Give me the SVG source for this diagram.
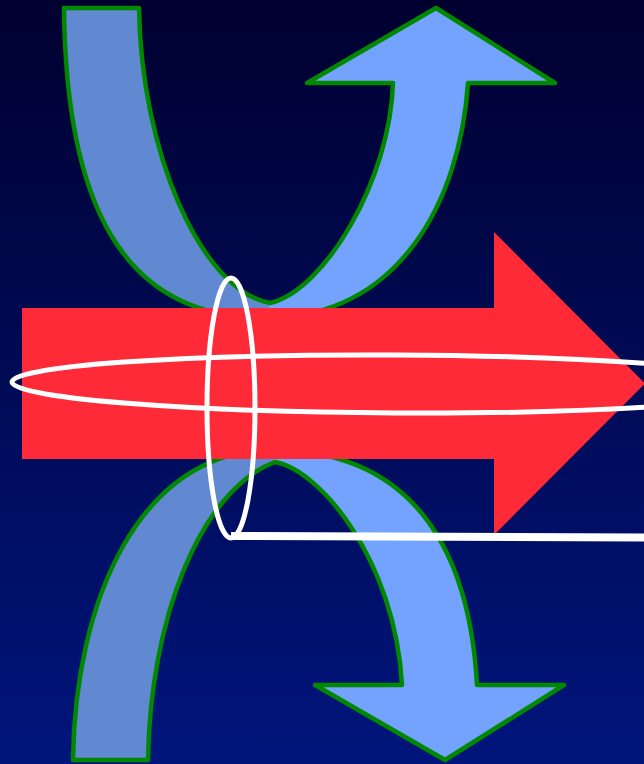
<svg xmlns="http://www.w3.org/2000/svg" width="644" height="764" viewBox="0 0 644 764">
  <defs>
    <linearGradient id="bg" x1="0" y1="0" x2="0" y2="1">
      <stop offset="0" stop-color="#000030"/>
      <stop offset="1" stop-color="#00157C"/>
    </linearGradient>
  </defs>
  <style>
    .light { fill: #73A3FF; stroke: none; }
    .dark { fill: #6189D2; stroke: none; }
    .outline { fill: none; stroke: #008800; stroke-width: 4.5; stroke-linejoin: round; }
    .red { fill: #FF2A38; stroke: none; }
    .white { fill: none; stroke: #FFFFFF; stroke-width: 5; }
  </style>
  <rect x="0" y="0" width="644" height="764" fill="url(#bg)"/>

  <g id="top-arrow">
    <path class="light" d="M139,8 L64,8 C66,200 120,318 265,318 C400,318 460,200 468,83 L555,83 L436,8 L307,83 L393,83 C390,180 325,290 270,303 C200,290 141,150 139,8 Z"/>
    <path class="dark" d="M64,8 L139,8 C141,150 200,290 270,303 L265,318 C120,318 66,200 64,8 Z"/>
    <path class="outline" d="M139,8 L64,8 C66,200 120,318 265,318 C400,318 460,200 468,83 L555,83 L436,8 L307,83 L393,83 C390,180 325,290 270,303 C200,290 141,150 139,8 Z"/>
  </g>

  <g id="bottom-arrow">
    <path class="light" d="M148,760 L73,760 C75,600 140,450 272,450 C420,450 470,560 477,685 L564,685 L445,760 L315,685 L402,685 C395,560 320,470 275,462 C200,490 150,620 148,760 Z"/>
    <path class="dark" d="M73,760 L148,760 C150,620 200,490 275,462 L272,450 C140,450 75,600 73,760 Z"/>
    <path class="outline" d="M148,760 L73,760 C75,600 140,450 272,450 C420,450 470,560 477,685 L564,685 L445,760 L315,685 L402,685 C395,560 320,470 275,462 C200,490 150,620 148,760 Z"/>
  </g>

  <g id="red-arrow">
    <path class="red" d="M22,308 L494,308 L494,232 L645,383.5 L494,535 L494,459 L22,459 Z"/>
  </g>

  <g id="ellipse-horizontal">
    <ellipse class="white" cx="395" cy="384" rx="383" ry="29" transform="rotate(0.3 395 384)"/>
  </g>

  <g id="ellipse-vertical">
    <ellipse class="white" cx="231" cy="408" rx="24" ry="130"/>
  </g>

  <g id="connectors">
    <line x1="231" y1="536" x2="644" y2="537.5" stroke="#FFFFFF" stroke-width="8"/>
  </g>
</svg>
